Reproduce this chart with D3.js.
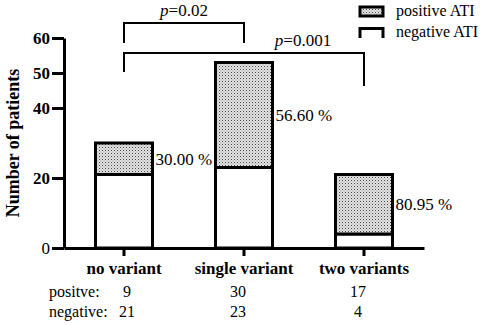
<!DOCTYPE html>
<html>
<head>
<meta charset="utf-8">
<script src="https://cdn.jsdelivr.net/npm/d3@7"></script>
<style>
  body { margin: 0; background: #fff; }
</style>
</head>
<body>
<svg id="vis"></svg>
<script>
const WIDTH = 484;
const HEIGHT = 325;
const FONT = "Liberation Serif";

const categories = ["no variant", "single variant", "two variants"];
const positive = [9, 30, 17];
const negative = [21, 23, 4];
const percents = ["30.00 %", "56.60 %", "80.95 %"];
const yTicks = [0, 20, 40, 50, 60];
const comparisons = [
    {from: 0, to: 1, p: "0.02", top: 64.3, leftEnd: 58.6, rightEnd: 58.6},
    {from: 0, to: 2, p: "0.001", top: 55.7, leftEnd: 50.3, rightEnd: 46.3}
];

const svg = d3.select("#vis")
    .attr("width", WIDTH)
    .attr("height", HEIGHT);

const x = d3.scaleBand()
    .domain(categories)
    .range([64, 424]);
const y = d3.scaleLinear()
    .domain([0, 60])
    .range([248, 38]);
const BAR_W = 57;
const cx = i => x(categories[i]) + x.bandwidth() / 2;

// stipple pattern for positive ATI
const pat = svg.append("defs").append("pattern")
    .attr("id", "dots")
    .attr("width", 3)
    .attr("height", 3)
    .attr("patternUnits", "userSpaceOnUse");
pat.append("rect").attr("width", 3).attr("height", 3).attr("fill", "#e4e4e4");
pat.append("rect").attr("width", 1).attr("height", 1).attr("fill", "#444");
pat.append("rect").attr("x", 1.5).attr("y", 1.5).attr("width", 1).attr("height", 1).attr("fill", "#888");

const data = categories.map((c, i) => ({cat: c, pos: positive[i], neg: negative[i], pct: percents[i]}));

// bars: negative (bottom, white) then positive (top, dotted)
const bars = svg.append("g");
bars.selectAll(".neg").data(data).join("rect")
    .attr("class", "neg")
    .attr("x", d => x(d.cat) + (x.bandwidth() - BAR_W) / 2)
    .attr("width", BAR_W)
    .attr("y", d => y(d.neg))
    .attr("height", d => y(0) - y(d.neg))
    .attr("fill", "#fff")
    .attr("stroke", "#000")
    .attr("stroke-width", 3);
bars.selectAll(".pos").data(data).join("rect")
    .attr("class", "pos")
    .attr("x", d => x(d.cat) + (x.bandwidth() - BAR_W) / 2)
    .attr("width", BAR_W)
    .attr("y", d => y(d.neg + d.pos))
    .attr("height", d => y(d.neg) - y(d.neg + d.pos))
    .attr("fill", "url(#dots)")
    .attr("stroke", "#000")
    .attr("stroke-width", 3);

// percent labels
svg.selectAll(".pct").data(data).join("text")
    .attr("class", "pct")
    .attr("x", d => x(d.cat) + (x.bandwidth() + BAR_W) / 2 + 3)
    .attr("y", d => y(d.neg + d.pos / 2) + 6)
    .attr("font-size", 17)
    .text(d => d.pct);

// y axis
const yAxis = svg.append("g")
    .attr("transform", "translate(64,0)")
    .call(d3.axisLeft(y).tickValues(yTicks).tickSize(12).tickSizeOuter(0).tickPadding(2));
yAxis.select(".domain").attr("stroke-width", 3);
yAxis.selectAll(".tick line").attr("stroke-width", 3);
yAxis.selectAll(".tick text")
    .attr("font-size", 17)
    .attr("font-weight", d => d === 0 ? "normal" : "bold")
    .attr("fill", "#000");

// x axis
const xAxis = svg.append("g")
    .attr("transform", "translate(0," + y(0) + ")")
    .call(d3.axisBottom(x).tickSize(8).tickSizeOuter(0).tickFormat(""));
xAxis.select(".domain").attr("stroke-width", 3);
xAxis.selectAll(".tick line").attr("stroke-width", 3);

svg.selectAll(".cat").data(data).join("text")
    .attr("class", "cat")
    .attr("x", d => x(d.cat) + x.bandwidth() / 2)
    .attr("y", 274)
    .attr("text-anchor", "middle")
    .attr("font-size", 17)
    .attr("font-weight", "bold")
    .text(d => d.cat);

// y title
svg.append("text")
    .attr("transform", "translate(19," + y(30) + ") rotate(-90)")
    .attr("text-anchor", "middle")
    .attr("font-size", 18)
    .attr("font-weight", "bold")
    .text("Number of patients");

// count table below
const numOffsets = [3, -6, -6];
svg.append("text").attr("x", 49).attr("y", 297).attr("font-size", 16).text("positve:");
svg.append("text").attr("x", 49).attr("y", 317).attr("font-size", 16).text("negative:");
svg.selectAll(".posN").data(data).join("text")
    .attr("class", "posN")
    .attr("x", (d, i) => cx(i) + numOffsets[i])
    .attr("y", 297)
    .attr("text-anchor", "middle")
    .attr("font-size", 16)
    .text(d => d.pos);
svg.selectAll(".negN").data(data).join("text")
    .attr("class", "negN")
    .attr("x", (d, i) => cx(i) + numOffsets[i])
    .attr("y", 317)
    .attr("text-anchor", "middle")
    .attr("font-size", 16)
    .text(d => d.neg);

// significance brackets
comparisons.forEach((c, k) => {
    const x1 = cx(c.from), x2 = cx(c.to);
    svg.append("path")
        .attr("d", `M${x1},${y(c.leftEnd)}V${y(c.top)}H${x2}V${y(c.rightEnd)}`)
        .attr("fill", "none")
        .attr("stroke", "#000")
        .attr("stroke-width", 2);
    const t = svg.append("text")
        .attr("x", k === 0 ? (x1 + x2) / 2 : x2 - 61)
        .attr("y", y(c.top) - 7)
        .attr("text-anchor", "middle")
        .attr("font-size", 17);
    t.append("tspan").attr("font-style", "italic").text("p");
    t.append("tspan").text("=" + c.p);
});

// legend
const lg = svg.append("g").attr("transform", "translate(360,0)");
lg.append("rect")
    .attr("x", 0).attr("y", 7).attr("width", 23).attr("height", 9)
    .attr("fill", "url(#dots)").attr("stroke", "#000").attr("stroke-width", 3);
lg.append("path")
    .attr("d", "M0,38V28.5H23V38")
    .attr("fill", "none").attr("stroke", "#000").attr("stroke-width", 3);
lg.append("text").attr("x", 36).attr("y", 16).attr("font-size", 16).text("positive ATI");
lg.append("text").attr("x", 36).attr("y", 37).attr("font-size", 16).text("negative ATI");

// serif face everywhere (axis groups default to sans-serif)
svg.selectAll("g").attr("font-family", null);
svg.selectAll("text").style("font-family", FONT);
</script>
</body>
</html>
